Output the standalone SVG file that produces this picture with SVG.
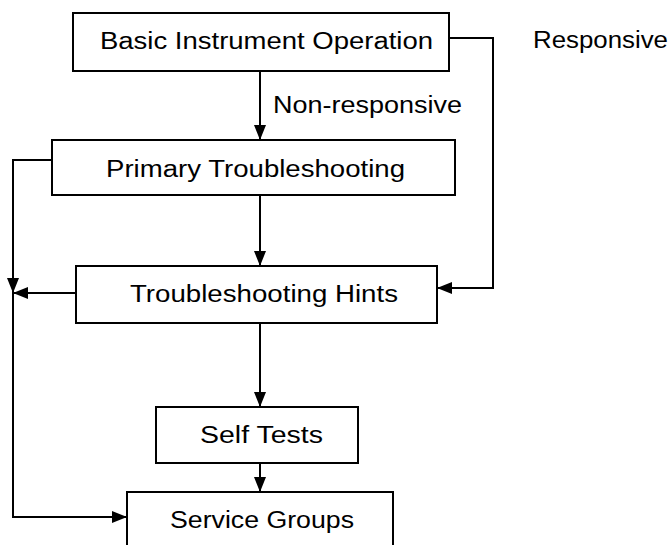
<svg xmlns="http://www.w3.org/2000/svg" width="671" height="545" viewBox="0 0 671 545">
<defs>
<marker id="arr" markerUnits="userSpaceOnUse" markerWidth="16" markerHeight="12" refX="15" refY="6" orient="auto">
<path d="M0,0 L15,6 L0,12 z" fill="#000"/>
</marker>
<style>
.box{fill:#fff;stroke:#000;stroke-width:2}
.t{font-family:"Liberation Sans",Arial,sans-serif;font-size:23px;fill:#000}
.c{fill:none;stroke:#000;stroke-width:2}
</style>
</defs>
<rect width="671" height="545" fill="#fff"/>
<g id="connectors">
<path class="c" d="M260,71 V140" marker-end="url(#arr)"/>
<path class="c" d="M449,38 H493 V288 H437" marker-end="url(#arr)"/>
<path class="c" d="M260,195 V266" marker-end="url(#arr)"/>
<path class="c" d="M260,323 V407" marker-end="url(#arr)"/>
<path class="c" d="M260,463 V492" marker-end="url(#arr)"/>
<path class="c" d="M52,160 H13 V293" marker-end="url(#arr)"/>
<path class="c" d="M76,293 H13" marker-end="url(#arr)"/>
<path class="c" d="M13,293 V517 H127" marker-end="url(#arr)"/>
</g>
<g id="label-nonresponsive"><text class="t" x="273" y="113" textLength="189" lengthAdjust="spacingAndGlyphs">Non-responsive</text></g>
<g id="label-responsive"><text class="t" x="533" y="48" textLength="135" lengthAdjust="spacingAndGlyphs">Responsive</text></g>
<g id="basic">
<rect class="box" x="73" y="13" width="376" height="58"/>
<text class="t" x="100" y="49" textLength="333" lengthAdjust="spacingAndGlyphs">Basic Instrument Operation</text>
</g>
<g id="primary">
<rect class="box" x="52" y="140" width="403" height="55"/>
<text class="t" x="106" y="177" textLength="299" lengthAdjust="spacingAndGlyphs">Primary Troubleshooting</text>
</g>
<g id="hints">
<rect class="box" x="76" y="266" width="361" height="57"/>
<text class="t" x="130" y="302" textLength="268" lengthAdjust="spacingAndGlyphs">Troubleshooting Hints</text>
</g>
<g id="selftests">
<rect class="box" x="156" y="407" width="202" height="56"/>
<text class="t" x="200" y="443" textLength="123" lengthAdjust="spacingAndGlyphs">Self Tests</text>
</g>
<g id="service">
<rect class="box" x="127" y="492" width="266" height="60"/>
<text class="t" x="170" y="528" textLength="184" lengthAdjust="spacingAndGlyphs">Service Groups</text>
</g>
</svg>
